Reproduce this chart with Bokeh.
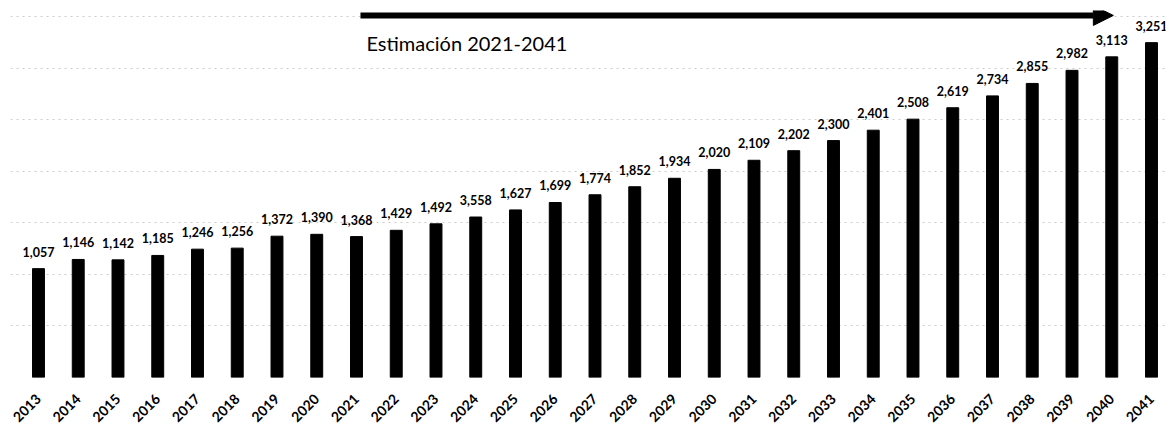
import math
from bokeh.plotting import figure
from bokeh.models import Range1d, FixedTicker, SingleIntervalTicker, ColumnDataSource, Arrow, NormalHead, Label
from bokeh.core.properties import value
from bokeh.embed import file_html
from bokeh.resources import INLINE

years = [2013, 2014, 2015, 2016, 2017, 2018, 2019, 2020, 2021, 2022,
         2023, 2024, 2025, 2026, 2027, 2028, 2029, 2030, 2031, 2032,
         2033, 2034, 2035, 2036, 2037, 2038, 2039, 2040, 2041]
values = [1057, 1146, 1142, 1185, 1246, 1256, 1372, 1390, 1368, 1429,
          1492, 1558, 1627, 1699, 1774, 1852, 1934, 2020, 2109, 2202,
          2300, 2401, 2508, 2619, 2734, 2855, 2982, 3113, 3251]
value_labels = ["1,057", "1,146", "1,142", "1,185", "1,246", "1,256", "1,372", "1,390", "1,368", "1,429",
                "1,492", "3,558", "1,627", "1,699", "1,774", "1,852", "1,934", "2,020", "2,109", "2,202",
                "2,300", "2,401", "2,508", "2,619", "2,734", "2,855", "2,982", "3,113", "3,251"]
tick_labels = [str(y) for y in years]
title_text = "Estimación 2021-2041"
estimate_start = 2021
estimate_end = 2041

FONT = "Lato"

p = figure(frame_width=1155, frame_height=367, output_backend="svg", toolbar_location=None,
           x_range=Range1d(2012.296, 2041.352), y_range=Range1d(0, 3563),
           min_border_left=10, min_border_right=2, min_border_top=10, min_border_bottom=40,
           background_fill_color="white", border_fill_color="white")
p.outline_line_color = None

src = ColumnDataSource(dict(x=years, top=values, lab=value_labels))
p.vbar(x="x", top="top", width=0.3, source=src, fill_color="black", line_color="black")
p.text(x="x", y="top", text="lab", source=src, text_font=value(FONT), text_font_style="bold",
       text_font_size="12.5px", text_align="center", text_baseline="alphabetic", y_offset=-17,
       text_color="black")

# axes
p.yaxis.visible = False
p.xaxis.ticker = FixedTicker(ticks=years)
p.xaxis.major_label_overrides = {y: t for y, t in zip(years, tick_labels)}
p.xaxis.major_label_orientation = math.pi / 4
p.xaxis.major_label_text_font = FONT
p.xaxis.major_label_text_font_style = "bold"
p.xaxis.major_label_text_font_size = "14px"
p.xaxis.major_label_text_color = "black"
p.xaxis.major_label_standoff = 13
p.xaxis.axis_line_color = None
p.xaxis.major_tick_line_color = None
p.xaxis.minor_tick_line_color = None

p.xgrid.grid_line_color = None
p.ygrid.ticker = SingleIntervalTicker(interval=500)
p.ygrid.grid_line_color = "#cccccc"
p.ygrid.grid_line_dash = "2 4"
p.ygrid.grid_line_width = 1

# arrow and annotation
p.add_layout(Arrow(end=NormalHead(size=20, fill_color="black", line_color="black"),
                   x_start=estimate_start + 0.1, y_start=3515,
                   x_end=estimate_end - 0.96, y_end=3515,
                   line_width=6, line_color="black"))
p.add_layout(Label(x=estimate_start + 0.25, y=3252, text=title_text, text_font=FONT,
                   text_font_size="20px", text_color="black", text_baseline="alphabetic"))

open("out.html", "w").write(file_html(p, INLINE))
